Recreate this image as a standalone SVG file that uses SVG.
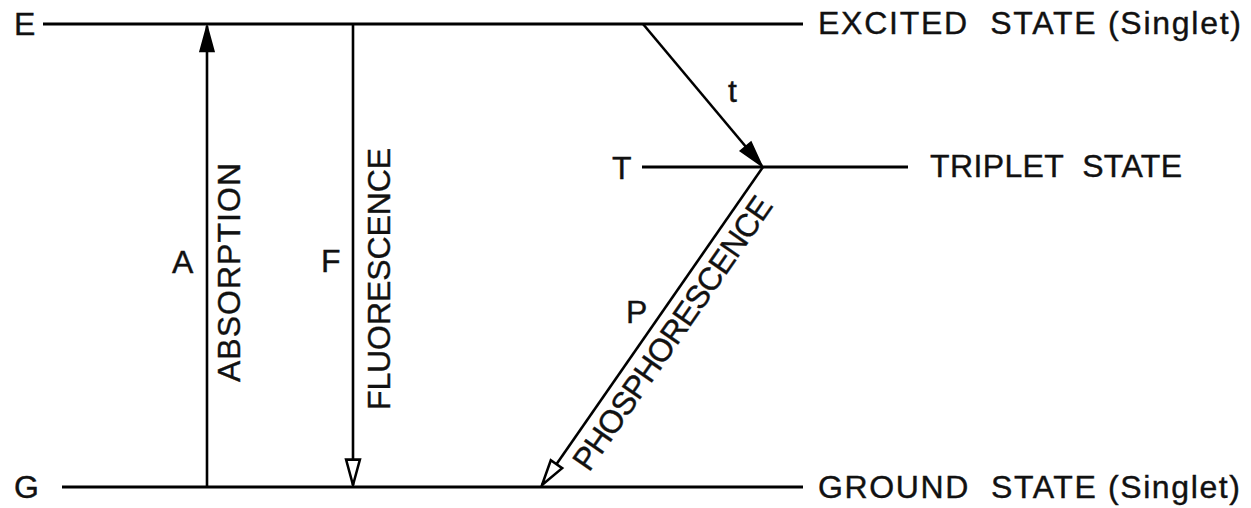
<svg xmlns="http://www.w3.org/2000/svg" width="1251" height="508" viewBox="0 0 1251 508">
<style>
.lvl{stroke:#000;stroke-width:3;fill:none}
.arr{stroke:#000;stroke-width:2.6;fill:none}
.t{font-family:"Liberation Sans",Arial,sans-serif;font-size:32px;fill:#111;stroke:#111;stroke-width:0.4;white-space:pre}
</style>
<defs>
<marker id="hf" markerUnits="userSpaceOnUse" markerWidth="30" markerHeight="20" viewBox="-24 -8 26 16" refX="0" refY="0" orient="auto">
<path d="M0,0 L-22,-6 L-22,6 Z" fill="#000" stroke="#000" stroke-width="1.5"/>
</marker>
<marker id="ho" markerUnits="userSpaceOnUse" markerWidth="30" markerHeight="20" viewBox="-24 -8 26 16" refX="0" refY="0" orient="auto">
<path d="M0,0 L-22,-6 L-22,6 Z" fill="#fff" stroke="#000" stroke-width="2.2" stroke-linejoin="miter"/>
</marker>
</defs>
<rect width="1251" height="508" fill="#fff"/>
<g id="excited">
<line class="lvl" x1="43" y1="24" x2="803" y2="24"/>
<text class="t" x="14" y="35">E</text>
<text class="t" x="818" y="34" textLength="423" lengthAdjust="spacing" xml:space="preserve">EXCITED  STATE (Singlet)</text>
</g>
<g id="triplet">
<line class="lvl" x1="642" y1="167" x2="908" y2="167"/>
<text class="t" x="612" y="179">T</text>
<text class="t" x="930" y="177" textLength="252" lengthAdjust="spacing" xml:space="preserve">TRIPLET  STATE</text>
</g>
<g id="ground">
<line class="lvl" x1="62" y1="487" x2="803" y2="487"/>
<text class="t" x="14" y="498">G</text>
<text class="t" x="818" y="498" textLength="422" lengthAdjust="spacing" xml:space="preserve">GROUND  STATE (Singlet)</text>
</g>
<g id="connectors">
<line class="arr" x1="207" y1="487" x2="207" y2="26" marker-end="url(#hf)"/>
<line class="arr" x1="353" y1="24" x2="353" y2="485" marker-end="url(#ho)"/>
<line class="arr" x1="643" y1="24" x2="762" y2="166" marker-end="url(#hf)"/>
<line class="arr" x1="763" y1="167" x2="542" y2="485" marker-end="url(#ho)"/>
</g>
<g id="labels">
<text class="t" x="172" y="273">A</text>
<text class="t" transform="translate(240,382) rotate(-90)" textLength="219" lengthAdjust="spacing">ABSORPTION</text>
<text class="t" x="321" y="272">F</text>
<text class="t" transform="translate(390,410) rotate(-90)" textLength="262" lengthAdjust="spacing">FLUORESCENCE</text>
<text class="t" x="728" y="102">t</text>
<text class="t" x="626" y="323">P</text>
<text class="t" transform="translate(589,473) rotate(-55.3)" textLength="325" lengthAdjust="spacing">PHOSPHORESCENCE</text>
</g>
</svg>
